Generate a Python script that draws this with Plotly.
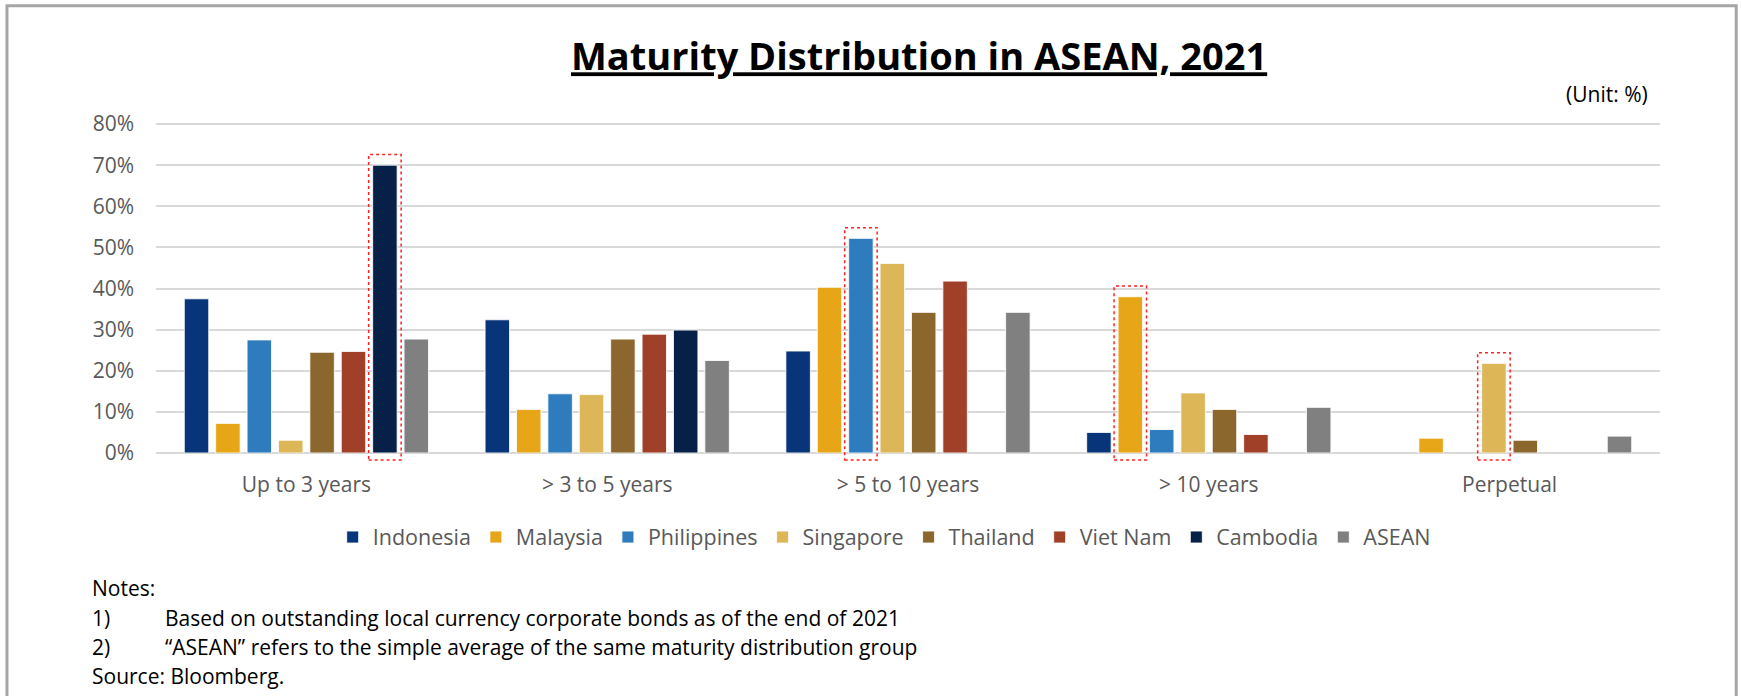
import plotly.graph_objects as go

# ---------------- data ----------------
categories = ["Up to 3 years", "> 3 to 5 years", "> 5 to 10 years", "> 10 years", "Perpetual"]
countries = ["Indonesia", "Malaysia", "Philippines", "Singapore", "Thailand", "Viet Nam", "Cambodia", "ASEAN"]

indonesia = [37.5, 32.4, 24.8, 5.0, None]
malaysia = [7.2, 10.6, 40.3, 38.0, 3.6]
philippines = [27.5, 14.4, 52.2, 5.7, None]
singapore = [3.1, 14.2, 46.1, 14.6, 21.8]
thailand = [24.5, 27.7, 34.2, 10.6, 3.1]
viet_nam = [24.7, 28.9, 41.8, 4.5, None]
cambodia = [70.0, 29.9, None, None, None]
asean = [27.7, 22.5, 34.2, 11.1, 4.1]

series = [indonesia, malaysia, philippines, singapore, thailand, viet_nam, cambodia, asean]

colors = ["#08357A", "#E6A617", "#2E7BBE", "#DCB657", "#8B672E", "#A04029", "#072047", "#808080"]

y_ticks = [0, 10, 20, 30, 40, 50, 60, 70, 80]
y_tick_labels = ["0%", "10%", "20%", "30%", "40%", "50%", "60%", "70%", "80%"]

highlights = [("Up to 3 years", "Cambodia"), ("> 5 to 10 years", "Philippines"),
              ("> 10 years", "Malaysia"), ("Perpetual", "Singapore")]

title_text = "Maturity Distribution in ASEAN, 2021"
unit_text = "(Unit: %)"
notes_head = "Notes:"
note_nums = ["1)", "2)"]
note_texts = ["Based on outstanding local currency corporate bonds as of the end of 2021",
              "\u201cASEAN\u201d refers to the simple average of the same maturity distribution group"]
source_text = "Source: Bloomberg."

# ---------------- layout geometry ----------------
W, H = 1741, 696
L, R, T, B = 156, 81.4, 124, 243.3
BARGAP = 0.165
BARGROUPGAP = 0.22
FONT = "Open Sans"
GREY = "#595959"
Y_TOP = 80.25  # a hair above the last tick so its gridline is drawn
T = 124 - 0.25 * (696 - 124 - 243.3) / 80.0


def px(x):
    return (x - L) / (W - L - R)


def py(y):
    return (H - B - y) / (H - T - B)


fig = go.Figure()
for name, vals, col in zip(countries, series, colors):
    fig.add_trace(go.Bar(
        name=name, x=categories, y=vals,
        marker=dict(color=col, line=dict(color="rgba(255,255,255,0.85)", width=1)),
    ))

# highlight boxes (dashed red), placed from the bar layout
n = len(countries)
for cat, ctry in highlights:
    ci = categories.index(cat)
    si = countries.index(ctry)
    val = series[si][ci]
    slot = (1 - BARGAP) / n
    xc = ci - (1 - BARGAP) / 2 + (si + 0.5) * slot
    hw = 0.054
    fig.add_shape(type="rect", xref="x", yref="paper",
                  x0=xc - hw, x1=xc + hw, y0=-1.7 / Y_TOP, y1=(val + 2.6) / Y_TOP,
                  line=dict(color="#FF2020", width=1.5, dash="dot"),
                  fillcolor="rgba(0,0,0,0)", layer="above")

# outer frame
fig.add_shape(type="rect", xref="paper", yref="paper",
              x0=px(7), x1=px(1735.8), y0=py(5.7), y1=py(730),
              line=dict(color="#A6A6A6", width=3), fillcolor="rgba(0,0,0,0)")

# unit text
fig.add_annotation(text=unit_text, xref="paper", yref="paper", x=px(1650), y=py(94),
                   xanchor="right", yanchor="middle", showarrow=False,
                   font=dict(family=FONT, size=21, color="#000000"))

# notes
note_font = dict(family=FONT, size=21, color="#000000")
fig.add_annotation(text=notes_head, xref="paper", yref="paper", x=px(90), y=py(588),
                   xanchor="left", yanchor="middle", showarrow=False, font=note_font)
for i, (num, txt) in enumerate(zip(note_nums, note_texts)):
    yy = 618 + i * 29
    fig.add_annotation(text=num, xref="paper", yref="paper", x=px(90), y=py(yy),
                       xanchor="left", yanchor="middle", showarrow=False, font=note_font)
    fig.add_annotation(text=txt, xref="paper", yref="paper", x=px(163), y=py(yy),
                       xanchor="left", yanchor="middle", showarrow=False, font=note_font)
fig.add_annotation(text=source_text, xref="paper", yref="paper", x=px(90), y=py(676),
                   xanchor="left", yanchor="middle", showarrow=False, font=note_font)

fig.update_layout(
    width=W, height=H,
    margin=dict(l=L, r=R, t=T, b=B),
    paper_bgcolor="white", plot_bgcolor="white",
    barmode="group", bargap=BARGAP, bargroupgap=BARGROUPGAP,
    font=dict(family=FONT, color=GREY),
    title=dict(text="<b><u>" + title_text + "</u></b>", xref="paper", x=px(918.9),
               xanchor="center", yref="container", y=1 - 57 / H, yanchor="middle",
               font=dict(family=FONT, size=38, color="#000000")),
    legend=dict(orientation="h", xref="paper", yref="paper", x=px(884), xanchor="center",
                y=py(536.7), yanchor="middle", font=dict(family=FONT, size=21.5, color=GREY),
                bgcolor="rgba(0,0,0,0)", traceorder="normal"),
    showlegend=True,
)
fig.update_xaxes(type="category", range=[-0.5, len(categories) - 0.5], showgrid=False,
                 showline=False, ticks="", tickfont=dict(family=FONT, size=21, color=GREY),
                 ticklabelstandoff=17, fixedrange=True)
fig.update_yaxes(range=[y_ticks[0], Y_TOP], tickmode="array", tickvals=y_ticks,
                 ticktext=y_tick_labels,
                 showgrid=True, gridcolor="#D9D9D9", gridwidth=1.5,
                 zeroline=True, zerolinecolor="#D9D9D9", zerolinewidth=1.5,
                 showline=False, ticks="", tickfont=dict(family=FONT, size=21, color=GREY),
                 ticklabelstandoff=21, fixedrange=True)

fig.write_html("out.html", config={"displayModeBar": False},
               post_script="document.body.style.margin='0';")
